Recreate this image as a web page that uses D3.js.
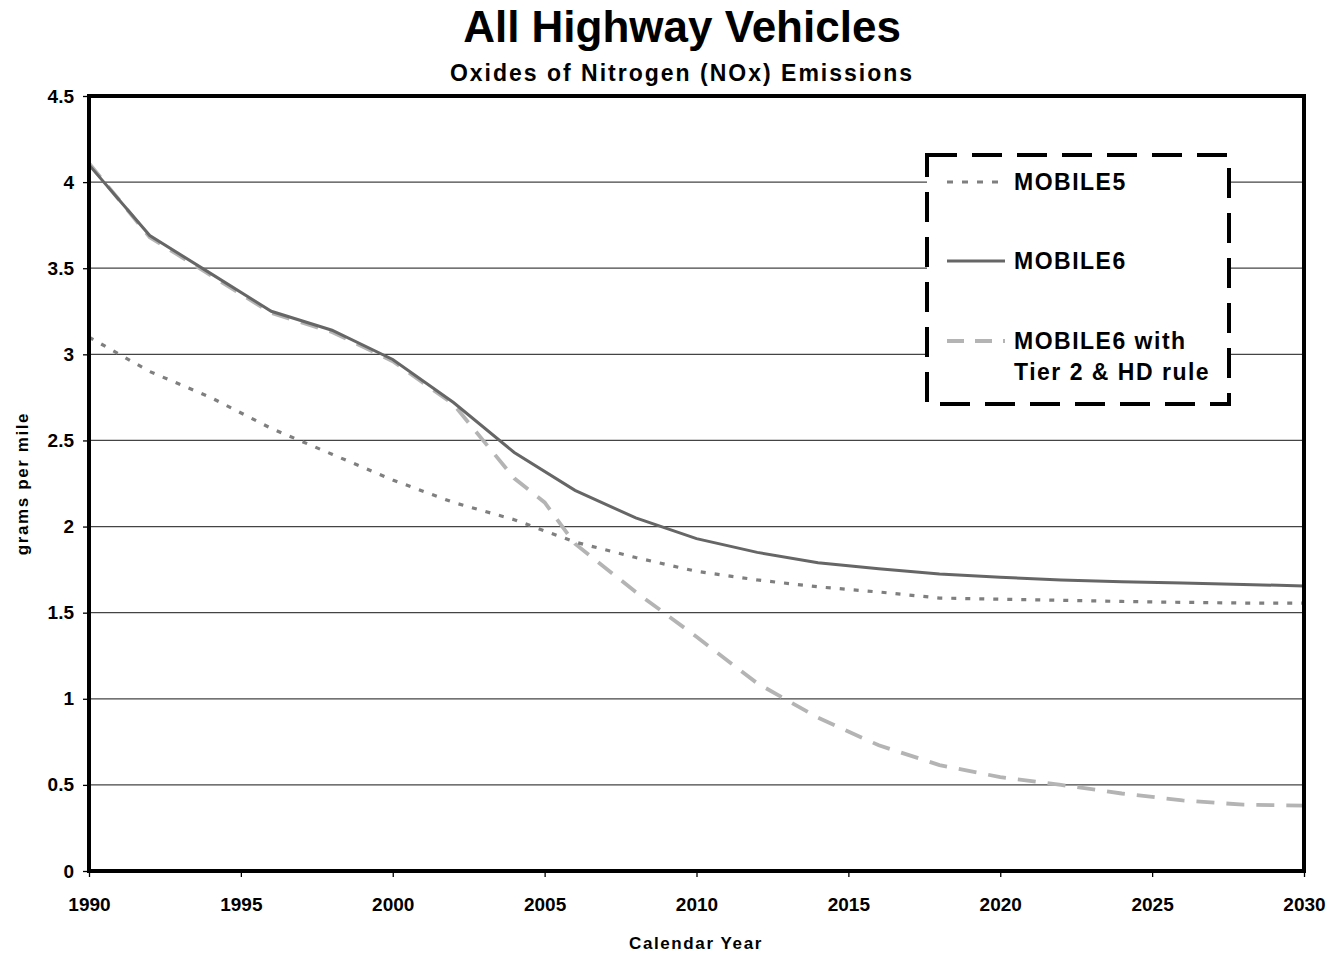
<!DOCTYPE html>
<html>
<head>
<meta charset="utf-8">
<script src="https://cdn.jsdelivr.net/npm/d3@7"></script>
<style>
  body { margin: 0; background: #fff; }
  text { font-family: "Liberation Sans", Arial, sans-serif; font-weight: bold; }
</style>
</head>
<body>
<div id="noxChart"></div>
<script>
// data (grams per mile)
var years = [1990, 1992, 1994, 1996, 1998, 2000, 2002, 2004, 2006, 2008, 2010,
             2012, 2014, 2016, 2018, 2020, 2022, 2024, 2026, 2028, 2030];
var mobile5 = [3.10, 2.90, 2.75, 2.57, 2.42, 2.27, 2.14, 2.04, 1.91, 1.82, 1.74,
               1.69, 1.65, 1.62, 1.585, 1.578, 1.572, 1.565, 1.56, 1.556, 1.555];
var mobile6 = [4.10, 3.69, 3.47, 3.25, 3.14, 2.97, 2.72, 2.43, 2.21, 2.05, 1.93,
               1.85, 1.79, 1.755, 1.725, 1.705, 1.69, 1.68, 1.672, 1.664, 1.655];
var tier2Years = [1990, 1992, 1994, 1996, 1998, 2000, 2002, 2004, 2005, 2006, 2008,
                  2010, 2012, 2014, 2016, 2018, 2020, 2022, 2024, 2026, 2028, 2030];
var tier2 = [4.11, 3.68, 3.46, 3.24, 3.13, 2.96, 2.71, 2.28, 2.14, 1.90, 1.62,
             1.36, 1.09, 0.89, 0.73, 0.615, 0.545, 0.50, 0.45, 0.41, 0.385, 0.38];
var xTicks = [1990, 1995, 2000, 2005, 2010, 2015, 2020, 2025, 2030];
var yTicks = [0, 0.5, 1, 1.5, 2, 2.5, 3, 3.5, 4, 4.5];
var seriesNames = ["MOBILE5", "MOBILE6", "MOBILE6 with|Tier 2 & HD rule"];

var width = 1329;
var height = 954;
var margin = {top: 96, right: 25, bottom: 83, left: 89};

var svg = d3.select("#noxChart")
            .append("svg")
            .attr("width", width)
            .attr("height", height);

var x = d3.scaleLinear()
          .domain([1990, 2030])
          .range([margin.left, width - margin.right]);
var y = d3.scaleLinear()
          .domain([0, 4.5])
          .range([height - margin.bottom, margin.top]);

// titles
svg.append("text")
   .attr("x", 682).attr("y", 42)
   .attr("text-anchor", "middle")
   .attr("font-size", "44px")
   .text("All Highway Vehicles");
svg.append("text")
   .attr("x", 682).attr("y", 81)
   .attr("text-anchor", "middle")
   .attr("font-size", "23px")
   .attr("letter-spacing", "2px")
   .text("Oxides of Nitrogen (NOx) Emissions");

// gridlines
svg.append("g")
   .selectAll("line")
   .data(yTicks.filter(function(d){ return d > 0 && d < 4.5; }))
   .enter()
   .append("line")
   .attr("x1", x(1990)).attr("x2", x(2030))
   .attr("y1", function(d){ return y(d); })
   .attr("y2", function(d){ return y(d); })
   .attr("stroke", "#444")
   .attr("stroke-width", 1.3);

// axes
var xAxis = svg.append("g")
   .attr("transform", "translate(0," + y(0) + ")")
   .call(d3.axisBottom(x).tickValues(xTicks).tickFormat(d3.format("d")).tickSize(6).tickPadding(21));
var yAxis = svg.append("g")
   .attr("transform", "translate(" + x(1990) + ",0)")
   .call(d3.axisLeft(y).tickValues(yTicks).tickFormat(function(d){ return String(d); }).tickSize(6).tickPadding(9));
[xAxis, yAxis].forEach(function(a){
  a.select(".domain").remove();
  a.selectAll("line").attr("stroke", "#000").attr("stroke-width", 1.3);
  a.selectAll("text")
   .attr("font-family", '"Liberation Sans", Arial, sans-serif')
   .attr("font-weight", "bold")
   .attr("font-size", "19px")
   .attr("fill", "#000");
});

svg.append("text")
   .attr("x", 696).attr("y", 949)
   .attr("text-anchor", "middle")
   .attr("font-size", "17px")
   .attr("letter-spacing", "1.6px")
   .text("Calendar Year");
svg.append("text")
   .attr("transform", "translate(28," + y(2.25) + ") rotate(-90)")
   .attr("text-anchor", "middle")
   .attr("font-size", "17px")
   .attr("letter-spacing", "1.6px")
   .text("grams per mile");

// series lines
var line = d3.line()
             .x(function(d){ return x(d[0]); })
             .y(function(d){ return y(d[1]); });

var seriesStyle = [
  {data: d3.zip(years, mobile5), color: "#7f7f7f", width: 3.2, dash: "5,9"},
  {data: d3.zip(years, mobile6), color: "#666666", width: 3, dash: null},
  {data: d3.zip(tier2Years, tier2), color: "#b4b4b4", width: 3.8, dash: "18,12"}
];
// draw tier2 first so solid sits on top like the original
[2, 0, 1].forEach(function(i){
  var s = seriesStyle[i];
  svg.append("path")
     .datum(s.data)
     .attr("d", line)
     .attr("fill", "none")
     .attr("stroke", s.color)
     .attr("stroke-width", s.width)
     .attr("stroke-dasharray", s.dash);
});

// plot frame
svg.append("rect")
   .attr("x", x(1990)).attr("y", y(4.5))
   .attr("width", x(2030) - x(1990))
   .attr("height", y(0) - y(4.5))
   .attr("fill", "none")
   .attr("stroke", "#000")
   .attr("stroke-width", 4);

// legend
var legend = svg.append("g");
legend.append("rect")
      .attr("x", 927).attr("y", 155)
      .attr("width", 302).attr("height", 249)
      .attr("fill", "#fff")
      .attr("stroke", "#000")
      .attr("stroke-width", 4)
      .attr("stroke-dasharray", "30,15");

var legendY = [182, 261, 341];
seriesNames.forEach(function(name, i){
  var s = seriesStyle[i];
  legend.append("line")
        .attr("x1", 947).attr("x2", 1005)
        .attr("y1", legendY[i]).attr("y2", legendY[i])
        .attr("stroke", s.color)
        .attr("stroke-width", s.width)
        .attr("stroke-dasharray", i === 0 ? "6,9" : (i === 2 ? "17,11" : null));
  var t = legend.append("text")
        .attr("x", 1014).attr("y", legendY[i] + 8)
        .attr("font-size", "23px")
        .attr("letter-spacing", "1.5px")
        .attr("fill", "#000");
  name.split("|").forEach(function(part, j){
    t.append("tspan").attr("x", 1014).attr("dy", j === 0 ? 0 : 31).text(part);
  });
});
</script>
</body>
</html>
